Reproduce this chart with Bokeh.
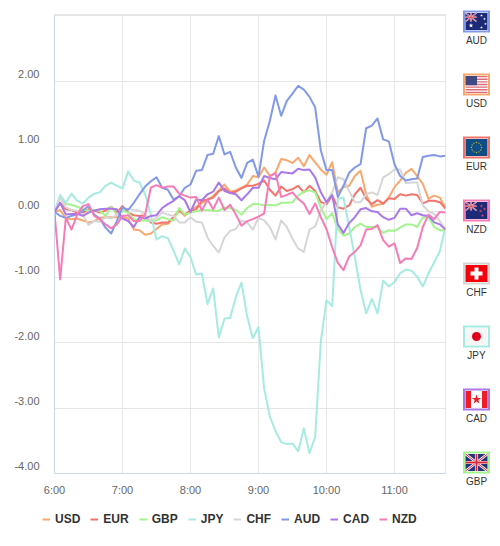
from bokeh.plotting import figure
from bokeh.layouts import row, column
from bokeh.models import Range1d, FixedTicker, Legend, LegendItem, LinearAxis
from bokeh.core.properties import value
from bokeh.embed import file_html
from bokeh.resources import INLINE

minutes = [360 + 5 * i for i in range(70)]
x_tick_values = [360, 420, 480, 540, 600, 660]
x_tick_labels = ["6:00", "7:00", "8:00", "9:00", "10:00", "11:00"]
y_grid_values = [-4, -3, -2, -1, 0, 1, 2, 3]
y_tick_values = [-4, -3, -2, -1, 0, 1, 2]
y_tick_labels = ["-4.00", "-3.00", "-2.00", "-1.00", "0.00", "1.00", "2.00"]

USD = [0, .03, -.10, -.11, -.10, -.13, -.16, -.14, -.09, -.08, -.08, -.08, -.08, -.10, -.27, -.28, -.35, -.33, -.26, -.19, -.18, -.10, .02, -.06, .02, .08, .14, .19, .24, .33, .42, .31, .33, .37, .42,
       .55, .53, .68, .55, .60, .81, .79, .75, .83, .70, .87, .76, .65, .57, .76, .30, .38, .40, .55, .63, .27, .08, .11, .12, .22, .38, .48, .60, .66, .55, .43, .20, .25, .22, .06]
EUR = [0, .14, .04, .03, -.01, -.01, .04, .02, -.01, .02, .08, -.01, .09, -.01, -.05, -.06, -.05, -.16, -.18, -.16, -.16, -.08, .03, -.04, .02, .04, .17, .19, .22, .32, .36, .29, .31, .36, .40,
       .40, .43, .48, .34, .25, .39, .32, .35, .40, .30, .40, .32, .15, .12, .25, .07, .05, .10, .27, .37, .20, .12, .18, .13, .21, .20, .27, .25, .27, .26, .13, .17, .17, .15, .05]
GBP = [0, .24, .12, .11, .08, .04, .02, .03, .02, -.06, .08, -.04, .02, -.01, -.11, -.13, -.13, -.14, -.13, -.08, -.11, -.13, .06, -.04, -.01, .01, .03, .03, .02, .02, .07, .06, .03, -.04, .06,
       .12, .12, .10, .11, .10, .14, .14, .15, .25, .31, .33, .30, .07, -.11, -.02, -.26, -.36, -.33, -.23, -.18, -.23, -.23, -.23, -.32, -.28, -.29, -.24, -.19, -.19, -.23, -.08, -.08, -.23, -.28, -.28]
JPY = [0, .26, .14, .28, .17, .13, .22, .28, .30, .40, .45, .40, .36, .62, .48, .45, .27, -.04, -.42, -.37, -.40, -.59, -.80, -.56, -.69, -.96, -.94, -1.41, -1.17, -1.92, -1.63, -1.62, -1.30, -1.08, -1.60,
       -1.93, -1.76, -2.70, -3.13, -3.35, -3.52, -3.55, -3.54, -3.66, -3.31, -3.69, -3.44, -1.98, -1.35, -1.44, .20, .22, -.23, -.69, -1.19, -1.55, -1.33, -1.55, -1.05, -1.14, -1.07, -.94, -.88, -.90, -.99, -1.14, -.94, -.77, -.60, -.23]
CHF = [0, .22, .07, .03, .02, -.04, -.20, -.14, -.15, -.08, -.10, -.04, .04, .05, .03, .02, -.04, -.14, -.09, -.01, -.04, -.06, -.16, -.16, -.08, -.15, -.16, -.39, -.52, -.62, -.39, -.29, -.26, -.13, -.16,
       -.27, -.09, -.13, -.23, -.42, -.13, -.23, -.41, -.56, -.61, -.27, -.22, .02, .15, .30, .53, .50, .32, .15, .15, .27, .30, .26, .53, .58, .65, .65, .44, .45, .45, .10, .01, -.03, -.14, -.27]
AUD = [0, -.06, -.09, -.06, -.04, .02, .09, -.04, -.10, -.24, -.33, -.14, .07, .03, .14, .27, .39, .47, .53, .37, .34, .19, .24, .37, .42, .63, .64, .87, .89, 1.16, .88, .92, .68, .52, .75,
       .80, .54, 1.09, 1.39, 1.78, 1.47, 1.70, 1.81, 1.93, 1.87, 1.76, 1.60, .94, .64, .64, .23, .40, .60, .68, .73, 1.28, 1.32, 1.43, 1.11, 1.08, .73, .55, .48, .50, .51, .84, .86, .87, .85, .86]
CAD = [0, .14, -.04, -.03, -.03, -.06, -.01, .02, .04, .05, .05, .04, -.10, -.14, -.23, -.08, -.10, -.06, -.05, .06, .12, .17, .24, .18, 0, .19, .18, .27, .31, .45, .32, .29, .27, .18, .27,
       .37, .37, .55, .52, .50, .61, .60, .59, .66, .64, .65, .53, .30, .15, .26, -.19, -.32, -.17, -.08, .04, .06, .01, 0, -.08, -.12, -.09, .05, .05, -.05, -.02, -.05, -.06, -.16, -.19, -.27]
NZD = [0, -1.03, -.09, -.27, -.04, .09, .12, -.06, -.11, -.19, -.25, -.19, -.06, -.05, -.14, -.14, -.04, .37, .41, .37, .39, .39, .28, .25, .22, .23, .02, .19, .04, .22, .03, .11, -.04, -.21, -.14,
       -.11, -.07, -.02, .55, .59, .23, .26, .30, .20, .13, -.03, .13, -.08, -.26, -.54, -.78, -.89, -.68, -.61, -.51, -.27, -.26, -.20, -.43, -.53, -.48, -.78, -.71, -.72, -.55, -.23, -.04, -.11, 0, -.01]

series_names = ["USD", "EUR", "GBP", "JPY", "CHF", "AUD", "CAD", "NZD"]
series_values = [USD, EUR, GBP, JPY, CHF, AUD, CAD, NZD]
series_colors = ["#f7a86e", "#f4736b", "#a2f58c", "#a6ebe1", "#d6d6d6", "#8199e8", "#ab78e8", "#f57cb6"]
flag_order = ["AUD", "USD", "EUR", "NZD", "CHF", "JPY", "CAD", "GBP"]
color_of = dict(zip(series_names, series_colors))

Y_LO, Y_HI = -4, 3.02
LABEL_SHIFT = 0.11  # axis labels sit just above their grid lines

p = figure(width=450, height=498, output_backend="svg", toolbar_location=None,
           x_range=Range1d(360, 705), y_range=Range1d(Y_LO, Y_HI),
           min_border_left=54, min_border_right=5, min_border_top=14, min_border_bottom=25,
           y_axis_location=None, frame_align=False)
p.outline_line_color = "#e6e6e6"
p.xgrid.grid_line_color = "#e6e6e6"
p.ygrid.grid_line_color = "#e6e6e6"
p.xaxis.ticker = FixedTicker(ticks=x_tick_values)
p.ygrid.ticker = FixedTicker(ticks=y_grid_values)
p.xaxis.major_label_overrides = dict(zip(x_tick_values, x_tick_labels))
p.extra_y_ranges = {"labels": Range1d(Y_LO - LABEL_SHIFT, Y_HI - LABEL_SHIFT)}
yax = LinearAxis(y_range_name="labels", ticker=FixedTicker(ticks=y_tick_values),
                 major_label_overrides=dict(zip(y_tick_values, y_tick_labels)))
p.add_layout(yax, "left")
for ax in (p.xaxis[0], yax):
    ax.axis_line_color = "#ccd6eb"
    ax.major_tick_line_color = None
    ax.minor_tick_line_color = None
    ax.major_label_text_color = "#666666"
    ax.major_label_text_font = "Liberation Sans"
    ax.major_label_text_font_size = "11px"
p.xaxis.major_label_standoff = 4
yax.major_label_standoff = 9

for name, vals, col in zip(series_names, series_values, series_colors):
    p.line(minutes, vals, line_color=col, line_width=2, line_join="round")

# legend strip beneath the chart; its lines lie outside this strip's ranges, only the key shows
g = figure(width=492, height=40, output_backend="svg", toolbar_location=None,
           x_range=Range1d(0, 1), y_range=Range1d(10, 11),
           min_border=0, min_border_left=0, min_border_right=0, min_border_top=0, min_border_bottom=0,
           frame_align=False)
g.axis.visible = False
g.grid.visible = False
g.outline_line_color = None
items = []
for name, vals, col in zip(series_names, series_values, series_colors):
    r = g.line(minutes, vals, line_color=col, line_width=2)
    items.append(LegendItem(label=name, renderers=[r]))
legend = Legend(items=items, orientation="horizontal", location=(42, 12), padding=0, margin=0,
                spacing=10, label_standoff=5, glyph_width=8, glyph_height=12,
                border_line_color=None, background_fill_alpha=0,
                label_text_font="Liberation Sans", label_text_font_style="bold",
                label_text_font_size="12px", label_text_color="#333333")
g.add_layout(legend, "center")

# flag column, ranges are page pixels
f = figure(width=42, height=498, output_backend="svg", toolbar_location=None,
           x_range=Range1d(450, 492), y_range=Range1d(498, 0),
           min_border=0, min_border_left=0, min_border_right=0, min_border_top=0, min_border_bottom=0,
           frame_align=False)
f.axis.visible = False
f.grid.visible = False
f.outline_line_color = None

def rect(l, t, r, b, c):
    f.quad(left=[l], right=[r], top=[t], bottom=[b], fill_color=c, line_color=None)

def jack(l, t, r, b):
    navy = "#26327e"
    rect(l, t, r, b, navy)
    cx, cy = (l + r) / 2, (t + b) / 2
    w = r - l
    f.segment(x0=[l, l], y0=[t, b], x1=[r, r], y1=[b, t], line_color="#ffffff", line_width=max(1, w / 9))
    f.segment(x0=[l, l], y0=[t, b], x1=[r, r], y1=[b, t], line_color="#d8283c", line_width=max(.7, w / 22))
    f.segment(x0=[cx, l], y0=[t, cy], x1=[cx, r], y1=[b, cy], line_color="#ffffff", line_width=w / 7)
    f.segment(x0=[cx, l], y0=[t, cy], x1=[cx, r], y1=[b, cy], line_color="#d8283c", line_width=w / 12)

step = 63
box_top = 10
box_h = 22
L, R = 462.5, 489.5
for k, name in enumerate(flag_order):
    t = box_top + k * step
    b = t + box_h
    rect(L, t, R, b, color_of[name])
    rect(L + 2, t + 2, R - 2, b - 2, "#ffffff")
    il, it, ir, ib = L + 2.5, t + 2.5, R - 2.5, b - 2.5
    cx, cy = (il + ir) / 2, (it + ib) / 2
    if name in ("AUD", "NZD"):
        rect(il, it, ir, ib, "#1c2a78")
        jack(il, it, cx, cy)
        if name == "AUD":
            f.scatter([il + 5.5, cx + 5, cx + 8, cx + 9, cx + 5], [cy + 4, it + 2.5, it + 6, it + 11, cy + 6], marker="star",
                      size=[5, 3, 3, 3, 3], fill_color="#ffffff", line_color=None)
        else:
            f.scatter([cx + 5, cx + 8, cx + 4, cx + 6], [it + 4, it + 7, it + 9, cy + 5], marker="star",
                      size=[3.5] * 4, fill_color="#d84a5c", line_color=None)
    elif name == "USD":
        rect(il, it, ir, ib, "#ffffff")
        sh = (ib - it) / 13
        for s in range(0, 13, 2):
            rect(il, it + s * sh, ir, it + (s + 1) * sh, "#dc6a78")
        rect(il, it, il + 11.5, it + 7 * sh, "#3f4a80")
    elif name == "EUR":
        rect(il, it, ir, ib, "#0f4d86")
        xs = [cx + 5 * dx for dx in (0, .5, .87, 1, .87, .5, 0, -.5, -.87, -1, -.87, -.5)]
        ys = [cy + 5 * dy for dy in (-1, -.87, -.5, 0, .5, .87, 1, .87, .5, 0, -.5, -.87)]
        f.scatter(xs, ys, marker="circle", size=1.3, fill_color="#c8bd3c", line_color=None)
    elif name == "CHF":
        rect(il, it, ir, ib, "#f4000a")
        rect(cx - 6, cy - 2, cx + 6, cy + 2, "#ffffff")
        rect(cx - 2, cy - 6, cx + 2, cy + 6, "#ffffff")
    elif name == "JPY":
        rect(il, it, ir, ib, "#f6f6f6")
        f.scatter([cx], [cy], marker="circle", size=9, fill_color="#e0001b", line_color=None)
    elif name == "CAD":
        rect(il, it, ir, ib, "#ffffff")
        rect(il, it, il + 5.5, ib, "#ee1c25")
        rect(ir - 5.5, it, ir, ib, "#ee1c25")
        f.scatter([cx], [cy], marker="star", size=10, fill_color="#ee1c25", line_color=None)
    else:
        jack(il, it, ir, ib)
    f.text([476], [b + 8], text=[name], text_align="center", text_baseline="middle",
           text_font=value("Liberation Sans"), text_font_size="10px", text_color="#333333")

open("out.html", "w").write(file_html(column(row(p, f), g), INLINE))
